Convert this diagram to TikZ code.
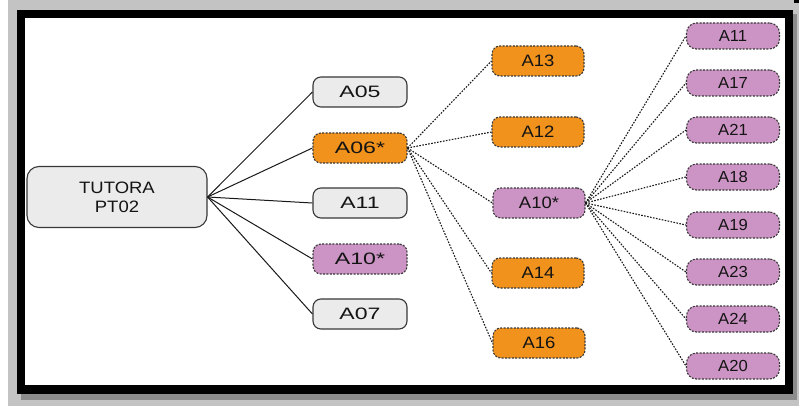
\documentclass[tikz,border=0pt]{standalone}
\usepackage{fontspec}
\setmainfont{Liberation Sans}
\newfontfamily\fleft{Liberation Sans}[FakeStretch=1.4]
\newfontfamily\ftut{Liberation Sans}[FakeStretch=1.12]
\newfontfamily\fmid{Liberation Sans}[FakeStretch=1.12]
\newfontfamily\fright{Liberation Sans}[FakeStretch=1.04]
\definecolor{boxgray}{HTML}{EBEBEB}
\definecolor{orng}{HTML}{F0921C}
\definecolor{purp}{HTML}{CC94C4}
\definecolor{edgec}{HTML}{383838}
\definecolor{bggray}{HTML}{C3C3C3}
\definecolor{txt}{HTML}{141414}
\tikzset{
  base/.style={rounded corners=8pt, draw=edgec, line width=1.1pt, align=center,
    text=txt, inner sep=0pt, minimum height=30pt},
  dashb/.style={dash pattern=on 2pt off 1.4pt},
  lgray/.style={base, fill=boxgray, minimum width=94pt, font=\fleft\fontsize{16.5}{19}\selectfont},
  lorng/.style={base, dashb, fill=orng, minimum width=94pt, font=\fleft\fontsize{16.5}{19}\selectfont},
  lpurp/.style={base, dashb, fill=purp, minimum width=94pt, font=\fleft\fontsize{16.5}{19}\selectfont},
  tutbox/.style={base, fill=boxgray, minimum width=180pt, minimum height=61pt, rounded corners=12pt,
    font=\ftut\fontsize{16.5}{19}\selectfont},
  morng/.style={base, dashb, fill=orng, minimum width=92pt, font=\fmid\fontsize{16.5}{19}\selectfont},
  mpurp/.style={base, dashb, fill=purp, minimum width=92pt, font=\fmid\fontsize{16.5}{19}\selectfont},
  rpurp/.style={base, dashb, fill=purp, minimum width=93pt, minimum height=26pt, rounded corners=10pt,
    font=\fright\fontsize{16}{18}\selectfont},
  soledge/.style={draw=black!90, line width=1pt},
  dotedge/.style={draw=black!90, line width=1.1pt, dash pattern=on 1.6pt off 1.4pt},
}
\begin{document}
\begin{tikzpicture}[x=1pt,y=-1pt]
\useasboundingbox (0,0) rectangle (799,406);
\fill[white] (0,0) rectangle (799,406);
\fill[bggray] (8,0) rectangle (799,406);
\fill[black!45] (21,392) rectangle (797,400);
\fill[black!45] (792,14) rectangle (797,400);
\fill[black] (17,10) rectangle (793,394);
\fill[white] (25,18) rectangle (785,385);
\fill[black] (794,0) rectangle (799,3);

\node[tutbox] (tut) at (117,197) {TUTORA\\PT02};

\node[lgray] (a05) at (360,92) {A05};
\node[lorng] (a06) at (360,148) {A06*};
\node[lgray] (a11) at (360,203) {A11};
\node[lpurp] (a10) at (360,259) {A10*};
\node[lgray] (a07) at (360,314) {A07};

\node[morng] (b13) at (538,61) {A13};
\node[morng] (b12) at (538,132) {A12};
\node[mpurp] (b10) at (539,203) {A10*};
\node[morng] (b14) at (538,273) {A14};
\node[morng] (b16) at (539,343) {A16};

\node[rpurp] (c11) at (733,36) {A11};
\node[rpurp] (c17) at (733,83) {A17};
\node[rpurp] (c21) at (733,130) {A21};
\node[rpurp] (c18) at (733,177) {A18};
\node[rpurp] (c19) at (733,225) {A19};
\node[rpurp] (c23) at (733,272) {A23};
\node[rpurp] (c24) at (733,319) {A24};
\node[rpurp] (c20) at (733,366) {A20};

\foreach \n in {a05,a06,a11,a10,a07} \draw[soledge] (tut.east) -- (\n.west);
\foreach \n in {b13,b12,b10,b14,b16} \draw[dotedge] (a06.east) -- (\n.west);
\foreach \n in {c11,c17,c21,c18,c19,c23,c24,c20} \draw[dotedge] (b10.east) -- (\n.west);
\end{tikzpicture}
\end{document}
